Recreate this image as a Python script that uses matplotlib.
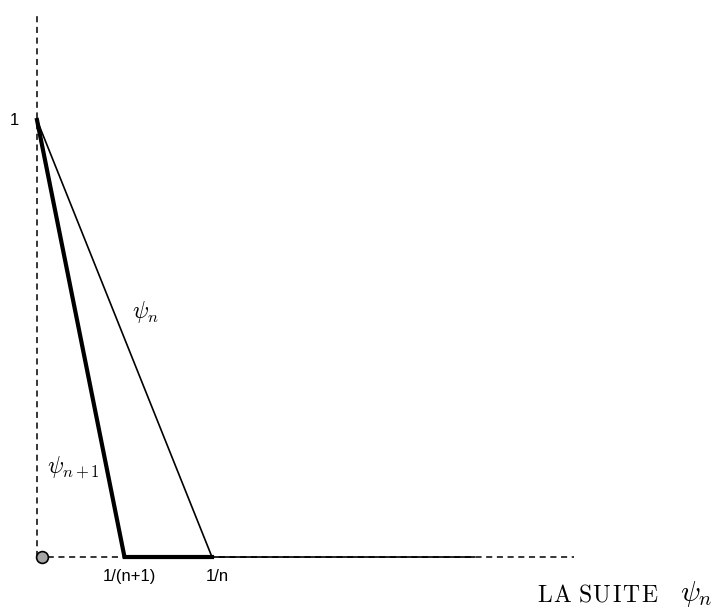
import matplotlib
matplotlib.use("Agg")
import matplotlib.pyplot as plt

plt.rcParams['mathtext.fontset'] = 'cm'
plt.rcParams['font.family'] = ['Liberation Sans', 'DejaVu Sans']

# breakpoints of the two hat functions (n = 1 scale)
psi_n_x = [0, 1, 2.5]
psi_n_y = [1, 0, 0]
psi_n1_x = [0, 0.5, 1]
psi_n1_y = [1, 0, 0]

tick_pos = [0.5, 1]
tick_labels = ['1/(n+1)', '1/n']

fig = plt.figure(figsize=(7.2, 6.14), dpi=100)
ax = fig.add_axes([0, 0, 1, 1])
ax.set_xlim(-0.2114, 3.903)
ax.set_ylim(-0.1304, 1.2746)
ax.axis('off')

# dashed axes
ax.plot([0, 0], [0, 1.245], color='black', lw=1.1, ls=(0, (4, 3)))
ax.plot([0, 3.07], [0, 0], color='black', lw=1.1, ls=(0, (4, 3)))

ax.plot(psi_n_x, psi_n_y, color='black', lw=1.2, solid_joinstyle='miter')
ax.plot(psi_n1_x, psi_n1_y, color='black', lw=3.0, solid_joinstyle='miter')

ax.plot([0.03], [0], 'o', ms=8.5, mfc='#a6a6a6', mec='black', mew=1.2, zorder=5)

ax.text(-0.129, 1.0, '1', fontsize=12, ha='center', va='center')
for p, lab in zip(tick_pos, tick_labels):
    ax.text(p + 0.03, -0.0435, lab, fontsize=12, ha='center', va='center')

ax.text(0.62, 0.56, r'$\psi_n$', fontsize=17, ha='center', va='center')
ax.text(0.206, 0.205, r'$\psi_{n+1}$', fontsize=17, ha='center', va='center')

# caption (small caps look: slightly spaced capitals)
sp = r'\hspace{0.08}'
caption = r'$\mathrm{L' + sp + 'A\\ S' + sp + 'U' + sp + 'I' + sp + 'T' + sp + 'E}$'
fig.text(658 / 720, 1 - 601 / 614, caption, fontsize=17,
         ha='right', va='baseline')
fig.text(680 / 720, 1 - 601 / 614, r'$\psi_n$', fontsize=21,
         ha='left', va='baseline')

fig.savefig('out.png', dpi=100)
